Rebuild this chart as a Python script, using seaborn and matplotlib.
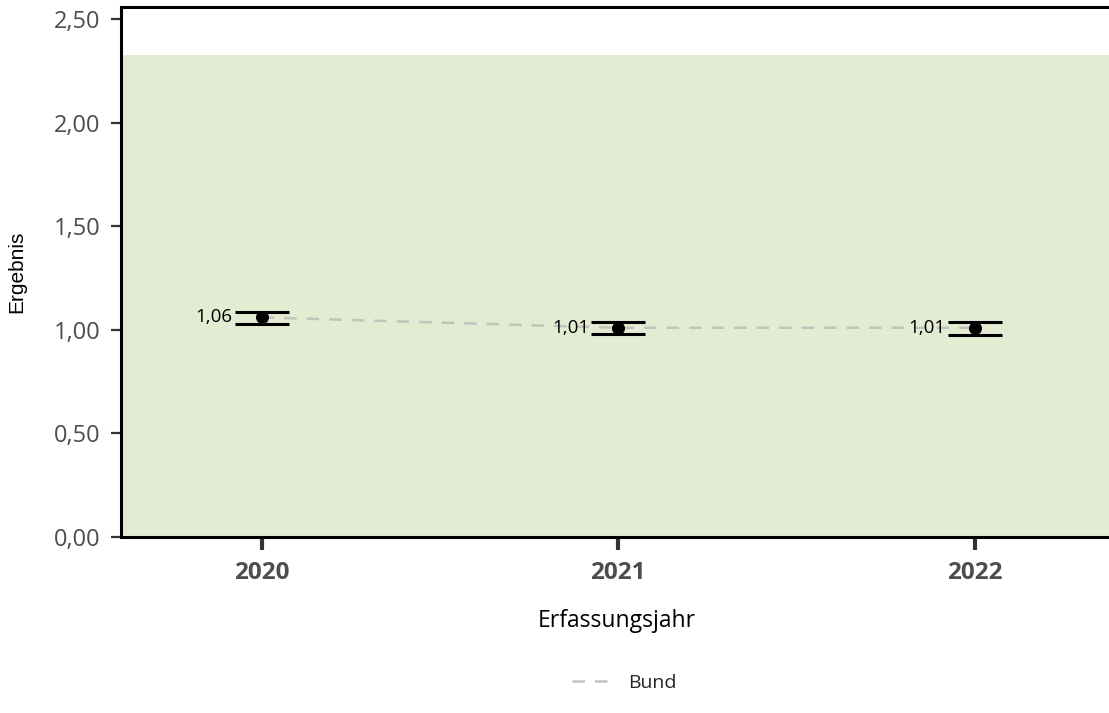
import matplotlib
matplotlib.use("Agg")
import matplotlib.pyplot as plt
import seaborn as sns
import pandas as pd
from matplotlib.lines import Line2D
from matplotlib.ticker import FuncFormatter

years = ["2020", "2021", "2022"]
values = [1.06, 1.01, 1.01]
ci_lower = [1.03, 0.98, 0.976]
ci_upper = [1.087, 1.04, 1.038]
bund = [1.06, 1.01, 1.01]
value_labels = ["1,06", "1,01", "1,01"]
ref_upper = 2.326
yticks = [0.0, 0.5, 1.0, 1.5, 2.0, 2.5]

sns.set_theme(style="white")
plt.rcParams['font.family'] = ['Open Sans', 'DejaVu Sans']

df = pd.DataFrame({"pos": range(len(years)), "year": years, "value": values,
                   "bund": bund, "lo": ci_lower, "hi": ci_upper})

fig = plt.figure(figsize=(11.09, 7.13), dpi=100)
ax = fig.add_axes([0.109, 0.2468, 0.895, 0.7434])

ax.axhspan(0, ref_upper, color="#e3ebd3", zorder=0, lw=0)

sns.lineplot(data=df, x="pos", y="bund", ax=ax, color="#c2c4bc", lw=1.8,
             linestyle=(0, (5, 4)), zorder=2, legend=False)

ax.errorbar(df["pos"], df["value"],
            yerr=[df["value"] - df["lo"], df["hi"] - df["value"]],
            fmt="none", ecolor="black", elinewidth=0, capsize=19.5, capthick=2.2, zorder=3)

sns.scatterplot(data=df, x="pos", y="value", ax=ax, color="black", s=75,
                edgecolor="black", zorder=4, legend=False)

for p, v, lab in zip(df["pos"], values, value_labels):
    ax.text(p - 0.082, v, lab, ha="right", va="center", fontsize=13.5, color="black", zorder=5)

ax.set_xlim(-0.395, 2.389)
ax.set_ylim(0, 2.558)
ax.set_xticks(range(len(years)))
ax.set_xticklabels(years, fontsize=17.5, fontweight="bold", color="#4d4d4d")
ax.set_yticks(yticks)
ax.yaxis.set_major_formatter(FuncFormatter(lambda v, _: f"{v:.2f}".replace(".", ",")))
ax.tick_params(axis="y", labelsize=17, labelcolor="#4d4d4d", length=7.5, width=1.6,
               color="#333333", left=True, pad=7)
ax.tick_params(axis="x", length=9, width=3, color="#333333", bottom=True, pad=8)

ax.set_xlabel("Erfassungsjahr", fontsize=16.5, color="black")
ax.set_ylabel("Ergebnis", fontsize=15, color="black", family=["Liberation Sans", "DejaVu Sans"])
ax.xaxis.label.set_va("center")
ax.yaxis.label.set_va("center")
ax.xaxis.set_label_coords(0.5, -0.159)
ax.yaxis.set_label_coords(-0.105, 0.5)

for side in ["left", "bottom", "top"]:
    ax.spines[side].set_visible(True)
    ax.spines[side].set_color("black")
    ax.spines[side].set_linewidth(2.2)
ax.spines["right"].set_visible(False)

handle = Line2D([], [], color="#c2c4bc", lw=1.8, linestyle=(0, (5, 4)))
fig.legend([handle], ["Bund"], loc="center", bbox_to_anchor=(0.563, 0.042),
           frameon=False, fontsize=14, handlelength=1.9, handletextpad=1.0)

fig.savefig("out.png", dpi=100)
